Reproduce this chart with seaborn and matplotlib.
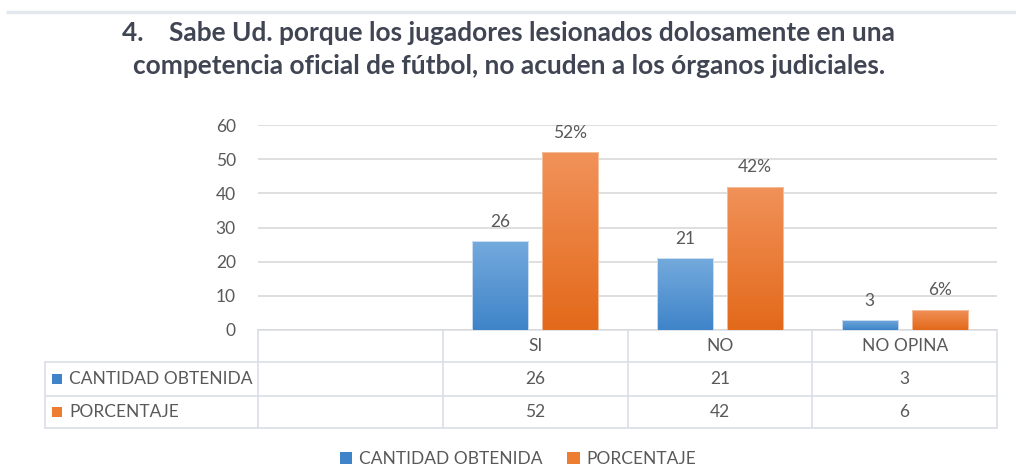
import numpy as np
import pandas as pd
import matplotlib
matplotlib.use("Agg")
import matplotlib.pyplot as plt
import seaborn as sns
from matplotlib.patches import Patch, Rectangle
from matplotlib.colors import LinearSegmentedColormap

# ---- data ----
categories = ["SI", "NO", "NO OPINA"]
series_names = ["CANTIDAD OBTENIDA", "PORCENTAJE"]
cantidad = [26, 21, 3]
porcentaje = [52, 42, 6]
title_lines = ["4.    Sabe Ud. porque los jugadores lesionados dolosamente en una",
               "competencia oficial de fútbol, no acuden a los órganos judiciales."]
yticks = [0, 10, 20, 30, 40, 50, 60]

df = pd.DataFrame({
    "cat": categories * 2,
    "serie": [series_names[0]] * 3 + [series_names[1]] * 3,
    "val": cantidad + porcentaje,
})

sns.set_theme(style="white")
plt.rcParams["font.family"] = ["Lato", "DejaVu Sans"]

W, H = 1016, 466
fig = plt.figure(figsize=(W / 100, H / 100), dpi=100)
fig.patch.set_facecolor("white")

TXT = "#595959"
GRID = "#D9D9D9"
FS = 12.5
blue_top, blue_bot = "#74AADD", "#3F84C9"
ora_top, ora_bot = "#F1925A", "#E3691A"

# overlay axes in pixel coords
ov = fig.add_axes([0, 0, 1, 1], zorder=0)
ov.set_xlim(0, W)
ov.set_ylim(H, 0)
ov.axis("off")

def fy(py):
    return 1 - py / H

ax_left, ax_right, ax_top, ax_bot = 258, 997, 125, 330
ax = fig.add_axes([ax_left / W, fy(ax_bot), (ax_right - ax_left) / W, (ax_bot - ax_top) / H], zorder=1)
ax.patch.set_alpha(0)

sns.barplot(data=df, x="cat", y="val", hue="serie", order=categories,
            hue_order=series_names, palette=[blue_bot, ora_bot],
            width=0.758, gap=0.2, ax=ax, legend=False, errorbar=None,
            edgecolor="none")

ax.set_xlim(-1.5, 2.5)
ax.set_ylim(0, 60)
ax.set_yticks(yticks)
ax.set_yticklabels([str(t) for t in yticks], color=TXT, fontsize=FS)
ax.tick_params(axis="y", length=0, pad=16)
ax.set_xticks([])
ax.set_xlabel("")
ax.set_ylabel("")
for s in ax.spines.values():
    s.set_visible(False)
ax.yaxis.grid(True, color=GRID, lw=1.2)
ax.set_axisbelow(True)

# gradient fill for bars
grad = np.linspace(0, 1, 256).reshape(-1, 1)
cmaps = [LinearSegmentedColormap.from_list("b", [blue_bot, blue_top]),
         LinearSegmentedColormap.from_list("o", [ora_bot, ora_top])]
bars = [p for p in ax.patches if isinstance(p, Rectangle)]
for i, p in enumerate(bars):
    cm = cmaps[0] if i < len(categories) else cmaps[1]
    x0, y0 = p.get_x(), p.get_y()
    w, h = p.get_width(), p.get_height()
    im = ax.imshow(grad, extent=[x0, x0 + w, y0, y0 + h], origin="lower",
                   cmap=cm, aspect="auto", zorder=2)
    im.set_clip_path(p)
    p.set_facecolor("none")
    p.set_edgecolor("#DDE8F4" if i < len(categories) else "#F6C7A8")
    p.set_linewidth(0.6)
    p.set_zorder(3)
ax.set_xlim(-1.5, 2.5)
ax.set_ylim(0, 60)

# data labels
for i, p in enumerate(bars):
    v = p.get_height()
    lab = f"{v:g}" if i < len(categories) else f"{v:g}%"
    ax.annotate(lab, (p.get_x() + p.get_width() / 2, v), xytext=(0, 8),
                textcoords="offset points", ha="center", va="bottom",
                color=TXT, fontsize=FS)

# title
ov.text(509, 33, title_lines[0], ha="center", va="center", fontsize=18.9,
        fontweight="bold", color="#404553")
ov.text(509, 66, title_lines[1], ha="center", va="center", fontsize=18.9,
        fontweight="bold", color="#404553")
# top rule
ov.plot([6, W], [12, 12], color="#E3E8EF", lw=2.5, solid_capstyle="butt")

# data table
fig.canvas.draw()
def px(xd):
    return ax.transData.transform((xd, 0))[0]
edges = [px(e) for e in [-1.5, -0.5, 0.5, 1.5, 2.5]]
left_x = 45
r0, r1, r2, r3 = 330, 362, 396, 428
lc = "#DADFE6"
ov.plot([edges[0], edges[-1]], [r0, r0], color=lc, lw=1.2)
for yy in (r1, r2, r3):
    ov.plot([left_x, edges[-1]], [yy, yy], color=lc, lw=1.2)
ov.plot([left_x, left_x], [r1, r3], color=lc, lw=1.2)
for ex in edges:
    ov.plot([ex, ex], [r0, r3], color=lc, lw=1.2)

centers = [(edges[i + 1] + edges[i + 2]) / 2 for i in range(len(categories))]
for c, cat in zip(centers, categories):
    ov.text(c, (r0 + r1) / 2, cat, ha="center", va="center", color=TXT, fontsize=FS)
for c, v in zip(centers, cantidad):
    ov.text(c, (r1 + r2) / 2, str(v), ha="center", va="center", color=TXT, fontsize=FS)
for c, v in zip(centers, porcentaje):
    ov.text(c, (r2 + r3) / 2, str(v), ha="center", va="center", color=TXT, fontsize=FS)
for (ya, yb), name, col in [((r1, r2), series_names[0], blue_bot), ((r2, r3), series_names[1], "#ED7D31")]:
    ym = (ya + yb) / 2
    ov.add_patch(Rectangle((52, ym - 5), 10, 10, color=col, lw=0))
    ov.text(69, ym, name, ha="left", va="center", color=TXT, fontsize=FS)

# legend
handles = [Patch(facecolor=blue_bot, edgecolor="none", label=series_names[0]),
           Patch(facecolor="#ED7D31", edgecolor="none", label=series_names[1])]
fig.legend(handles=handles, loc="center", bbox_to_anchor=(518 / W, fy(459)), ncol=2,
           frameon=False, handlelength=0.7, handleheight=0.7, handletextpad=0.4,
           columnspacing=1.45, prop={"size": FS}, labelcolor=TXT)

fig.savefig("out.png", dpi=100, facecolor="white")
